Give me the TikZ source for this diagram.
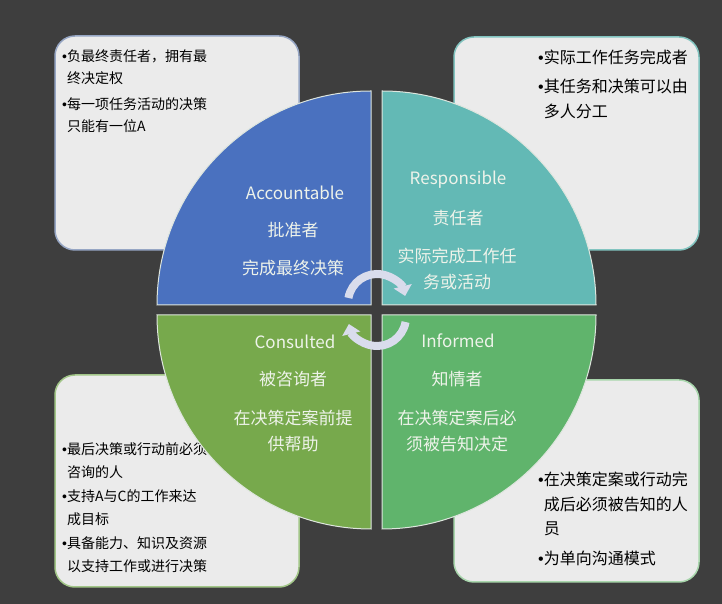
\documentclass[tikz,border=0pt]{standalone}
\usepackage{fontspec}
\setmainfont{Noto Sans CJK SC}
\newfontfamily\bulletfont{Liberation Sans}
\usetikzlibrary{arrows.meta,calc}
\definecolor{Backdrop}{RGB}{62, 62, 62}
\definecolor{BoxFill}{RGB}{235, 235, 235}
\definecolor{AccBlue}{RGB}{74, 113, 191}
\definecolor{ResTeal}{RGB}{99, 185, 181}
\definecolor{ConOlive}{RGB}{119, 169, 76}
\definecolor{InfGreen}{RGB}{96, 180, 108}
\definecolor{AccEdge}{RGB}{150, 166, 196}
\definecolor{ResEdge}{RGB}{130, 196, 192}
\definecolor{ConEdge}{RGB}{162, 198, 136}
\definecolor{InfEdge}{RGB}{168, 214, 172}
\definecolor{QuadEdge}{RGB}{222, 230, 222}
\definecolor{QuadText}{RGB}{238, 243, 234}
\definecolor{CycleArrow}{RGB}{217, 220, 236}

\newcommand{\nb}{{\bulletfont •}}

\tikzset{
    notebox/.style={fill=BoxFill, line width=1.5pt, rounded corners=20pt},
    notetext/.style={anchor=north west, inner sep=0pt, align=left, font=\fontsize{14}{22}\selectfont},
    quadrant/.style={draw=QuadEdge, line width=1pt},
    quadtext/.style={text=QuadText, inner sep=0pt, align=center, font=\fontsize{17}{26}\selectfont},
    cyclearrow/.style={draw=CycleArrow, line width=8pt, -{Triangle[length=10pt, width=18pt]}}
}

\begin{document}
\begin{tikzpicture}[x=1pt, y=1pt]

\useasboundingbox (0,0) rectangle (722,604);
\fill[Backdrop] (0,0) rectangle (722,604);

% Note boxes (behind the circle)
\draw[notebox, draw=AccEdge] (55,354) rectangle (299,568);
\draw[notebox, draw=ResEdge] (454,354) rectangle (699,567);
\draw[notebox, draw=ConEdge] (55,17) rectangle (299,229);
\draw[notebox, draw=InfEdge] (454,22) rectangle (699,224);

\node[notetext] (accnote) at (62,554) {\nb 负最终责任者，拥有最\\\hphantom{\nb}终决定权\\[4pt]\nb 每一项任务活动的决策\\\hphantom{\nb}只能有一位A};
\node[notetext, font=\fontsize{16}{25}\selectfont] (resnote) at (538,554) {\nb 实际工作任务完成者\\[4pt]\nb 其任务和决策可以由\\\hphantom{\nb}多人分工};
\node[notetext, font=\fontsize{14}{23.5}\selectfont] (connote) at (62,162) {\nb 最后决策或行动前必须\\\hphantom{\nb}咨询的人\\\nb 支持A与C的工作来达\\\hphantom{\nb}成目标\\\nb 具备能力、知识及资源\\\hphantom{\nb}以支持工作或进行决策};
\node[notetext, font=\fontsize{16}{24.5}\selectfont] (infnote) at (538,132) {\nb 在决策定案或行动完\\\hphantom{\nb}成后必须被告知的人\\\hphantom{\nb}员\\[5pt]\nb 为单向沟通模式};

% Quadrant A: Accountable
\filldraw[quadrant, fill=AccBlue] (371,299) -- (371,513) arc[start angle=90, end angle=180, radius=214] -- cycle;
\node[quadtext] (acc) at (295,411) {Accountable};
\node[quadtext] (accrole) at (293,374) {批准者};
\node[quadtext] (accdesc) at (293,336) {完成最终决策};

% Quadrant R: Responsible
\filldraw[quadrant, fill=ResTeal] (382,299) -- (596,299) arc[start angle=0, end angle=90, radius=214] -- cycle;
\node[quadtext] (res) at (458,424) {Responsible};
\node[quadtext] (resrole) at (458,386) {责任者};
\node[quadtext] (resdesc) at (457,335) {实际完成工作任\\务或活动};

% Quadrant C: Consulted
\filldraw[quadrant, fill=ConOlive] (371,289) -- (157,289) arc[start angle=180, end angle=270, radius=214] -- cycle;
\node[quadtext] (con) at (295,262) {Consulted};
\node[quadtext] (conrole) at (293,225) {被咨询者};
\node[quadtext] (condesc) at (293,173) {在决策定案前提\\供帮助};

% Quadrant I: Informed
\filldraw[quadrant, fill=InfGreen] (382,289) -- (382,75) arc[start angle=270, end angle=360, radius=214] -- cycle;
\node[quadtext] (inf) at (458,263) {Informed};
\node[quadtext] (infrole) at (457,225) {知情者};
\node[quadtext] (infdesc) at (457,173) {在决策定案后必\\须被告知决定};

% Cycle arrows in the middle
\coordinate (hub) at (377,294);
\coordinate (topstart) at ($(hub)+(0,7)+(170:29)$);
\coordinate (botstart) at ($(hub)+(0,-7)+(-10:29)$);
\draw[cyclearrow] (topstart) arc[start angle=170, end angle=14, radius=29];
\draw[cyclearrow] (botstart) arc[start angle=-10, end angle=-166, radius=29];

\end{tikzpicture}
\end{document}
